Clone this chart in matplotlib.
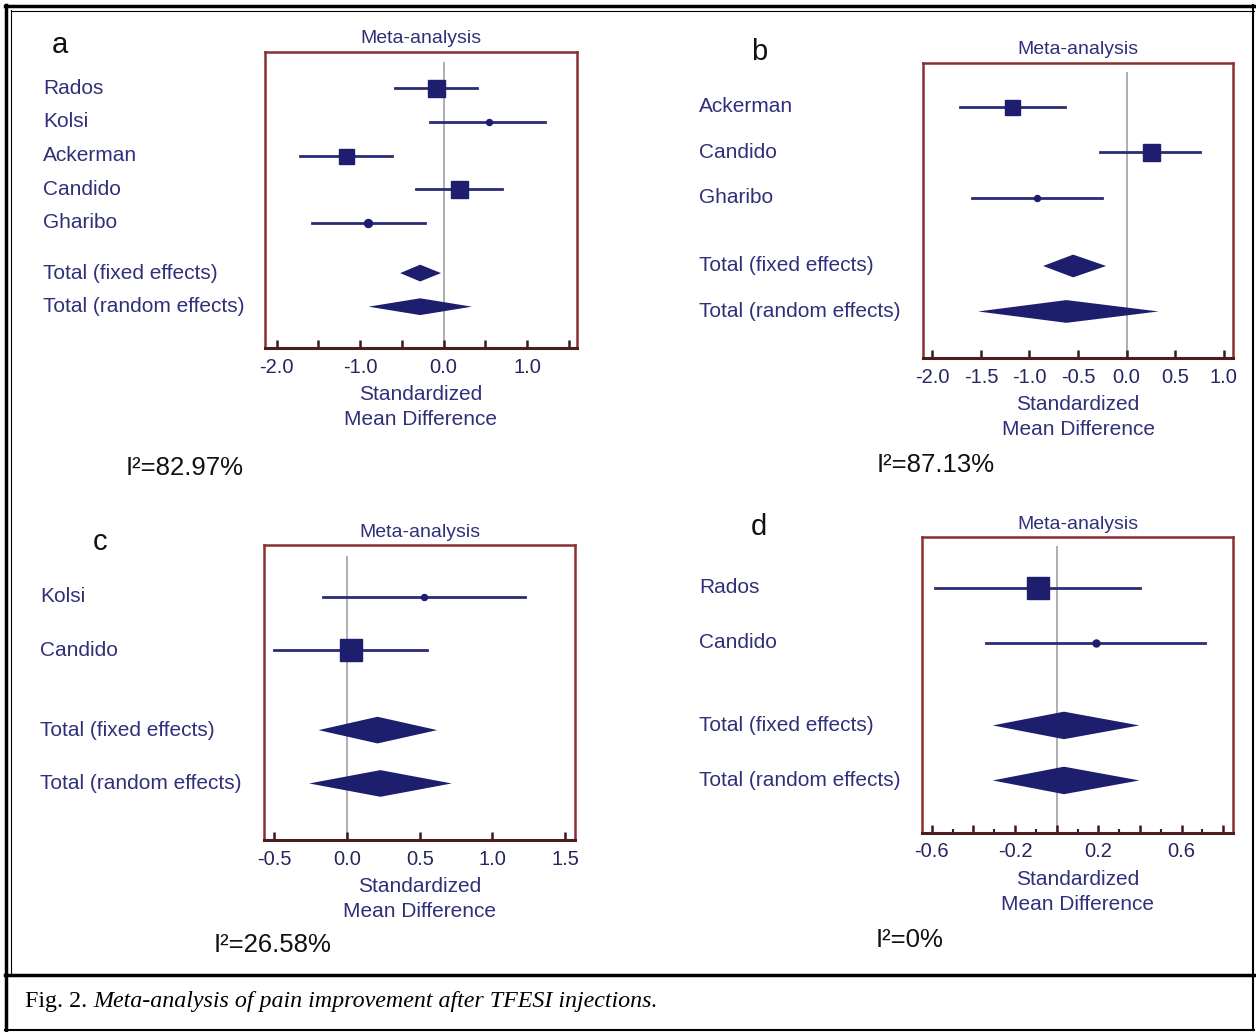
import matplotlib
matplotlib.use("Agg")
import matplotlib.pyplot as plt
from matplotlib.lines import Line2D
from matplotlib.ticker import FixedLocator

plt.rcParams["font.family"] = ["Liberation Sans", "DejaVu Sans"]

# --- Dados ---
# painel a
estudos_a = ["Rados", "Kolsi", "Ackerman", "Candido", "Gharibo"]
smd_a = [-0.09, 0.54, -1.17, 0.19, -0.91]
inf_a = [-0.58, -0.16, -1.72, -0.33, -1.58]
sup_a = [0.40, 1.22, -0.62, 0.70, -0.22]
peso_a = [17, 6, 15, 17, 8]
fixo_a = [-0.28, -0.52, -0.03]
aleat_a = [-0.28, -0.90, 0.34]
i2_a = "82.97%"

# painel b
estudos_b = ["Ackerman", "Candido", "Gharibo"]
smd_b = [-1.18, 0.25, -0.92]
inf_b = [-1.72, -0.27, -1.59]
sup_b = [-0.63, 0.76, -0.25]
peso_b = [15, 17, 6]
fixo_b = [-0.55, -0.86, -0.21]
aleat_b = [-0.62, -1.53, 0.33]
i2_b = "87.13%"

# painel c
estudos_c = ["Kolsi", "Candido"]
smd_c = [0.53, 0.03]
inf_c = [-0.165, -0.50]
sup_c = [1.22, 0.55]
peso_c = [6, 22]
fixo_c = [0.21, -0.195, 0.62]
aleat_c = [0.23, -0.26, 0.72]
i2_c = "26.58%"

# painel d
estudos_d = ["Rados", "Candido"]
smd_d = [-0.088, 0.189]
inf_d = [-0.584, -0.34]
sup_d = [0.40, 0.71]
peso_d = [22, 7]
fixo_d = [0.035, -0.307, 0.397]
aleat_d = [0.035, -0.307, 0.397]
i2_d = "0%"

W, H = 1256, 1032
fig = plt.figure(figsize=(W / 100, H / 100), dpi=100)

AZUL = "#1e1e6e"
TEXTO = "#30307a"
BORDA = "#8a3030"


def fx(px):
    return px / W


def fy(py):
    return 1 - py / H


def painel(ret, letra, pos_letra, estudos, smd, inf, sup, peso, fixo, aleat,
           xlim, ylim, ticks, rotulos, x_rotulo, i2, pos_i2, menores=None):
    x0, x1, y0, y1 = ret
    ax = fig.add_axes([fx(x0), fy(y1), fx(x1 - x0), (y1 - y0) / H])
    n = len(estudos)
    ax.vlines(0, -0.77, ylim[0], color="#a8a8a8", lw=1.3, zorder=1)

    for i in range(n):
        ax.plot([inf[i], sup[i]], [i, i], color="#2a2a78", lw=2.0, zorder=2)
        mk = "s" if peso[i] >= 12 else "o"
        ax.plot(smd[i], i, marker=mk, ms=peso[i] * 0.72, color=AZUL,
                mec=AZUL, zorder=3)

    for yy, (c, lo, hi) in zip([n + 0.5, n + 1.5], [fixo, aleat]):
        ax.fill([lo, c, hi, c], [yy, yy - 0.25, yy, yy + 0.25],
                color=AZUL, lw=0, zorder=3)

    nomes = list(estudos) + ["Total (fixed effects)", "Total (random effects)"]
    linhas = list(range(n)) + [n + 0.5, n + 1.5]
    for nome, yy in zip(nomes, linhas):
        ypx = y0 + (yy - ylim[1]) * (y1 - y0) / (ylim[0] - ylim[1])
        ax.annotate(nome, xy=(x_rotulo, H - ypx), xycoords="figure pixels",
                    va="center", ha="left", fontsize=15, color=TEXTO)

    ax.set_xlim(xlim)
    ax.set_ylim(ylim)
    ax.set_yticks([])
    ax.set_xticks(ticks)
    ax.set_xticklabels(rotulos)
    if menores is not None:
        ax.xaxis.set_minor_locator(FixedLocator(menores))
        ax.tick_params(axis="x", which="minor", direction="in", length=3,
                       width=1.5, color="#3a1a1a")
    ax.tick_params(axis="x", direction="in", length=6, width=1.8,
                   color="#3a1a1a", labelsize=14.5, labelcolor="#252560", pad=7)
    for s in ["left", "right", "top"]:
        ax.spines[s].set_color(BORDA)
        ax.spines[s].set_linewidth(1.8)
    ax.spines["bottom"].set_color("#4a1e1e")
    ax.spines["bottom"].set_linewidth(2.2)
    ax.set_title("Meta-analysis", fontsize=14, color=TEXTO, pad=6)
    ax.set_xlabel("Standardized\nMean Difference", fontsize=15,
                  color=TEXTO, labelpad=6, linespacing=1.4)

    fig.text(fx(pos_letra[0]), fy(pos_letra[1]), letra, fontsize=21,
             ha="center", va="center", color="#111111")
    fig.text(fx(pos_i2[0]), fy(pos_i2[1]), "I\u00b2=" + i2, fontsize=18.5,
             ha="left", va="center", color="#111111")
    return ax


painel((265, 577, 51.7, 348), "a", (60, 45), estudos_a, smd_a, inf_a, sup_a,
       peso_a, fixo_a, aleat_a, (-2.14, 1.6), (7.73, -1.09),
       [-2.0, -1.5, -1.0, -0.5, 0.0, 0.5, 1.0, 1.5],
       ["-2.0", "", "-1.0", "", "0.0", "", "1.0", ""], 43, i2_a, (126, 468))

painel((922.7, 1233.3, 62.7, 358.3), "b", (759, 52), estudos_b, smd_b, inf_b,
       sup_b, peso_b, fixo_b, aleat_b, (-2.10, 1.10), (5.53, -0.97),
       [-2.0, -1.5, -1.0, -0.5, 0.0, 0.5, 1.0],
       ["-2.0", "-1.5", "-1.0", "-0.5", "0.0", "0.5", "1.0"], 699, i2_b,
       (877, 465))

painel((264, 575, 545, 840), "c", (100, 542), estudos_c, smd_c, inf_c, sup_c,
       peso_c, fixo_c, aleat_c, (-0.57, 1.567), (4.56, -0.97),
       [-0.5, 0.0, 0.5, 1.0, 1.5], ["-0.5", "0.0", "0.5", "1.0", "1.5"], 40,
       i2_c, (214, 945))

painel((921.7, 1233.3, 537.3, 832.7), "d", (759, 527), estudos_d, smd_d,
       inf_d, sup_d, peso_d, fixo_d, aleat_d, (-0.648, 0.848), (4.45, -0.92),
       [-0.6, -0.4, -0.2, 0.0, 0.2, 0.4, 0.6, 0.8],
       ["-0.6", "", "-0.2", "", "0.2", "", "0.6", ""], 699, i2_d, (876, 940),
       menores=[-0.5, -0.3, -0.1, 0.1, 0.3, 0.5, 0.7])

# --- Molduras ---
def linha(xs, ys, lw):
    fig.add_artist(Line2D([fx(x) for x in xs], [fy(y) for y in ys],
                          color="black", lw=lw, transform=fig.transFigure))

linha([6, 6], [5, 1030], 2.5)
linha([11, 11], [10, 975], 0.8)
linha([5, 1254], [6, 6], 2.5)
linha([11, 1254], [11, 11], 0.8)
linha([1253, 1253], [5, 1030], 1.5)
linha([5, 1254], [975, 975], 2.5)
linha([5, 1254], [1030, 1030], 1.5)

# --- Legenda da figura ---
t1 = fig.text(fx(25), fy(1001), "Fig. 2. ", fontsize=17.3, va="center",
              ha="left", family="Liberation Serif")
fig.canvas.draw()
bb = t1.get_window_extent()
fig.text(bb.x1 / W, fy(1001),
         "Meta-analysis of pain improvement after TFESI injections.",
         fontsize=17.3, va="center", ha="left", family="Liberation Serif",
         style="italic")

fig.savefig("out.png", dpi=100)
